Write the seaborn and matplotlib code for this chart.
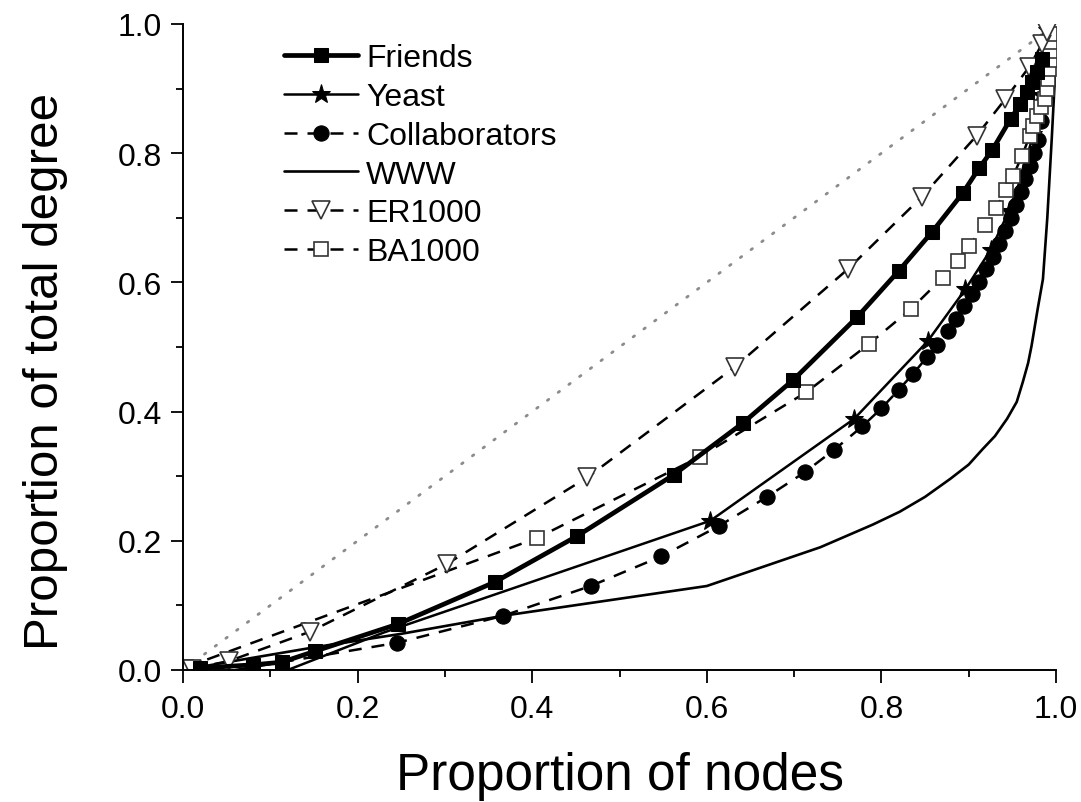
import matplotlib
matplotlib.use("Agg")
import matplotlib.pyplot as plt
import numpy as np
import pandas as pd
import seaborn as sns

# ---------------- data ----------------
diag_x = [0.0, 1.0]
diag_y = [0.0, 1.0]

friends_x = [0.02, 0.08, 0.113, 0.151, 0.246, 0.357, 0.451, 0.562, 0.641, 0.699,
             0.772, 0.820, 0.858, 0.893, 0.912, 0.927, 0.948, 0.959, 0.967, 0.972,
             0.978, 0.984]
friends_y = [0.003, 0.008, 0.012, 0.029, 0.071, 0.136, 0.207, 0.302, 0.382, 0.449,
             0.546, 0.618, 0.678, 0.738, 0.777, 0.805, 0.853, 0.876, 0.895, 0.910,
             0.926, 0.946]

yeast_x = [0.12, 0.23, 0.604, 0.769, 0.853, 0.896, 0.925, 0.946, 0.962, 0.974,
           0.983, 0.990]
yeast_y = [0.0, 0.058, 0.231, 0.389, 0.509, 0.589, 0.650, 0.710, 0.770, 0.830,
           0.890, 0.990]

collab_x = [0.06, 0.245, 0.367, 0.467, 0.548, 0.614, 0.669, 0.712, 0.746, 0.778,
            0.800, 0.820, 0.836, 0.852, 0.864, 0.876, 0.885, 0.895, 0.904, 0.912,
            0.920, 0.928, 0.935, 0.942, 0.948, 0.954, 0.960, 0.965, 0.970, 0.975,
            0.979, 0.983, 0.987, 0.990]
collab_y = [0.0, 0.042, 0.084, 0.130, 0.176, 0.223, 0.268, 0.306, 0.341, 0.377,
            0.405, 0.434, 0.458, 0.484, 0.503, 0.525, 0.543, 0.563, 0.582, 0.601,
            0.620, 0.640, 0.660, 0.680, 0.700, 0.720, 0.740, 0.760, 0.780, 0.800,
            0.820, 0.850, 0.890, 0.930]

www_x = [0.0, 0.05, 0.15, 0.25, 0.367, 0.60, 0.73, 0.79, 0.821, 0.85, 0.879, 0.90,
         0.916, 0.93, 0.944, 0.955, 0.962, 0.968, 0.972, 0.979, 0.985, 0.990,
         0.995, 1.0]
www_y = [0.0, 0.012, 0.035, 0.056, 0.084, 0.130, 0.190, 0.225, 0.245, 0.268, 0.296,
         0.318, 0.342, 0.362, 0.389, 0.415, 0.446, 0.475, 0.502, 0.559, 0.605,
         0.700, 0.820, 0.950]

er_x = [0.01, 0.053, 0.145, 0.302, 0.463, 0.632, 0.762, 0.846, 0.909, 0.942,
        0.969, 0.984, 0.990]
er_y = [0.002, 0.014, 0.059, 0.164, 0.298, 0.469, 0.621, 0.732, 0.827, 0.884,
        0.933, 0.969, 0.988]

ba_x = [0.003, 0.405, 0.592, 0.714, 0.786, 0.834, 0.870, 0.888, 0.900, 0.919,
        0.931, 0.943, 0.951, 0.961, 0.970, 0.974, 0.978, 0.983, 0.987, 0.990,
        0.991, 0.992, 0.993, 0.993, 0.993, 0.993]
ba_y = [0.004, 0.204, 0.330, 0.430, 0.505, 0.559, 0.607, 0.633, 0.656, 0.689,
        0.715, 0.743, 0.765, 0.796, 0.827, 0.842, 0.858, 0.872, 0.884, 0.899,
        0.915, 0.930, 0.945, 0.958, 0.972, 0.985]

# ---------------- style ----------------
sns.set_style("ticks")
plt.rcParams['font.family'] = ['Liberation Sans', 'DejaVu Sans']
plt.rcParams['text.color'] = 'black'
plt.rcParams['axes.labelcolor'] = 'black'
plt.rcParams['xtick.color'] = 'black'
plt.rcParams['ytick.color'] = 'black'

fig = plt.figure(figsize=(10.81, 8.03), dpi=100)
ax = fig.add_axes([0.1693, 0.1644, 0.8076, 0.8045])


def draw(x, y, label, **kw):
    df = pd.DataFrame({'x': x, 'y': y})
    sns.lineplot(data=df, x='x', y='y', sort=False, estimator=None,
                 ax=ax, label=label, **kw)


dash = (0, (5.2, 4.0))

draw(diag_x, diag_y, '_diag', color='#8c8c8c', lw=2.0, linestyle=(0, (0.6, 4.2)),
     dash_capstyle='round')
draw(www_x, www_y, 'WWW', color='black', lw=1.9)
draw(collab_x, collab_y, 'Collaborators', color='black', lw=1.8, linestyle=dash,
     marker='o', markersize=11, markerfacecolor='black', markeredgecolor='black',
     markevery=slice(1, None))
draw(yeast_x, yeast_y, 'Yeast', color='black', lw=1.8,
     marker='*', markersize=14, markerfacecolor='black', markeredgecolor='black',
     markevery=slice(2, None))
draw(ba_x, ba_y, 'BA1000', color='black', lw=1.8, linestyle=dash,
     marker='s', markersize=9.5, markerfacecolor='white', markeredgecolor='#333333',
     markeredgewidth=1.2)
draw(er_x, er_y, 'ER1000', color='black', lw=1.8, linestyle=dash,
     marker='v', markersize=13, markerfacecolor='white', markeredgecolor='#333333',
     markeredgewidth=1.2)
draw(friends_x, friends_y, 'Friends', color='black', lw=3.4,
     marker='s', markersize=9.5, markerfacecolor='black', markeredgecolor='black')

ax.set_xlim(0, 1)
ax.set_ylim(0, 1)
ax.set_xticks(np.arange(0, 1.01, 0.2))
ax.set_yticks(np.arange(0, 1.01, 0.2))
ax.set_xticks(np.arange(0.1, 1.0, 0.2), minor=True)
ax.set_yticks(np.arange(0.1, 1.0, 0.2), minor=True)
ax.xaxis.set_major_formatter(matplotlib.ticker.FormatStrFormatter('%.1f'))
ax.yaxis.set_major_formatter(matplotlib.ticker.FormatStrFormatter('%.1f'))
ax.tick_params(which='major', direction='out', length=9, width=1.3,
               labelsize=23, colors='black', labelcolor='black', pad=6)
ax.tick_params(axis='x', which='major', pad=8)
ax.tick_params(which='minor', direction='out', length=5, width=1.3)

for s in ['top', 'right']:
    ax.spines[s].set_visible(False)
for s in ['left', 'bottom']:
    ax.spines[s].set_linewidth(1.4)
    ax.spines[s].set_color('black')

ax.set_xlabel('Proportion of nodes', fontsize=37, labelpad=20, color='black')
ax.set_ylabel('Proportion of total degree', fontsize=35.5, labelpad=36, y=0.463,
              color='black')

handles, labels = ax.get_legend_handles_labels()
order = ['Friends', 'Yeast', 'Collaborators', 'WWW', 'ER1000', 'BA1000']
hmap = dict(zip(labels, handles))
leg = ax.legend([hmap[k] for k in order], order, loc='upper left',
                bbox_to_anchor=(0.0975, 0.995), frameon=False, fontsize=23,
                handlelength=2.3, handletextpad=0.27, labelspacing=0.275,
                borderpad=0, numpoints=1)
for t in leg.get_texts():
    t.set_color('black')

fig.savefig('out.png', dpi=100)
